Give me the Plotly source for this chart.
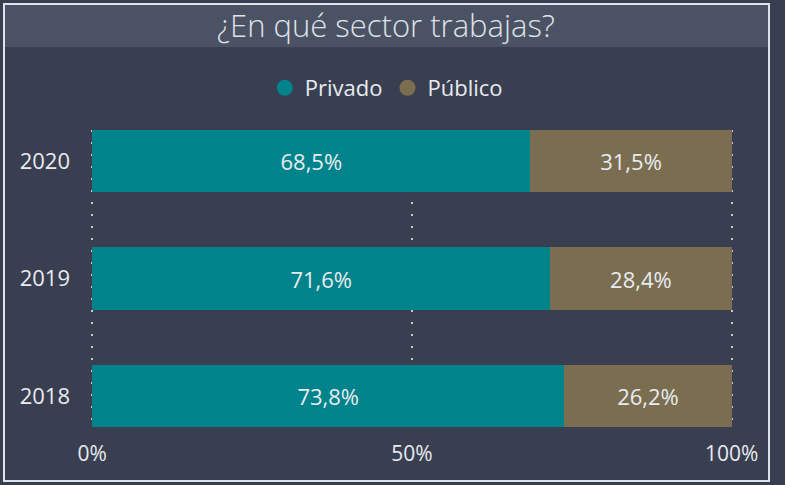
import plotly.graph_objects as go

# datos
years = ["2018", "2019", "2020"]
privado = [0.738, 0.716, 0.685]
publico = [0.262, 0.284, 0.315]
x_ticks = [0, 0.5, 1]
x_labels = ["0%", "50%", "100%"]

BG = "#393f50"
BAR_COLORS = {"Privado": "#00838a", "Público": "#7b6e50"}
TEXT = "#e8ebf0"
FONT = "Open Sans"

fig = go.Figure()
for name, vals in (("Privado", privado), ("Público", publico)):
    fig.add_trace(go.Bar(
        y=years, x=vals, name=name, orientation="h", width=0.53,
        marker=dict(color=BAR_COLORS[name], line=dict(width=0)),
        texttemplate="%{x:.1%}", textposition="inside", insidetextanchor="middle",
        textfont=dict(color=TEXT, size=22, family=FONT),
        showlegend=False, hoverinfo="skip",
    ))
    # trazas ficticias para leyenda con círculos
    fig.add_trace(go.Scatter(
        x=[None], y=[None], mode="markers", name=name,
        marker=dict(color=BAR_COLORS[name], size=22, symbol="circle"),
    ))

fig.update_layout(
    width=785, height=485, barmode="stack", separators=",.",
    paper_bgcolor=BG, plot_bgcolor=BG,
    margin=dict(l=91, r=52, t=130, b=58),
    font=dict(family=FONT, color=TEXT, size=21),
    legend=dict(orientation="h", x=0.46, y=1.1414, xanchor="center", yanchor="middle",
                traceorder="normal", font=dict(size=22, color=TEXT), itemwidth=30,
                bgcolor="rgba(0,0,0,0)"),
    xaxis=dict(range=[-0.002, 1.002], tickvals=x_ticks, ticktext=x_labels, showgrid=True,
               gridcolor="#c4c8d0", griddash="2px,10px", gridwidth=2, zeroline=False,
               showline=False, ticks="", ticklabelstandoff=12,
               tickfont=dict(size=21, color=TEXT), fixedrange=True),
    yaxis=dict(type="category", categoryorder="array", categoryarray=years,
               range=[-0.265, 2.265], showgrid=False, zeroline=False, ticks="",
               ticklabelstandoff=20, tickfont=dict(size=22, color=TEXT)),
    shapes=[
        dict(type="rect", xref="paper", yref="paper", x0=-0.1355, x1=1.0561, y0=1.2795, y1=1.4242,
             fillcolor="#4b5264", line=dict(width=0), layer="below"),
        dict(type="rect", xref="paper", yref="paper", x0=-0.1355, x1=1.0561, y0=-0.1818, y1=1.4242,
             fillcolor="rgba(0,0,0,0)", line=dict(color="#dde3ec", width=2), layer="above"),
    ],
    annotations=[
        dict(text="¿En qué sector trabajas?", xref="paper", yref="paper", x=0.46, y=1.352,
             xanchor="center", yanchor="middle", showarrow=False,
             font=dict(size=31, color="#dfe2e8", family=FONT, weight=300)),
    ],
)

fig.write_html("out.html", config={"displayModeBar": False},
               post_script="document.body.style.margin='0';document.body.style.background='%s';" % BG)
